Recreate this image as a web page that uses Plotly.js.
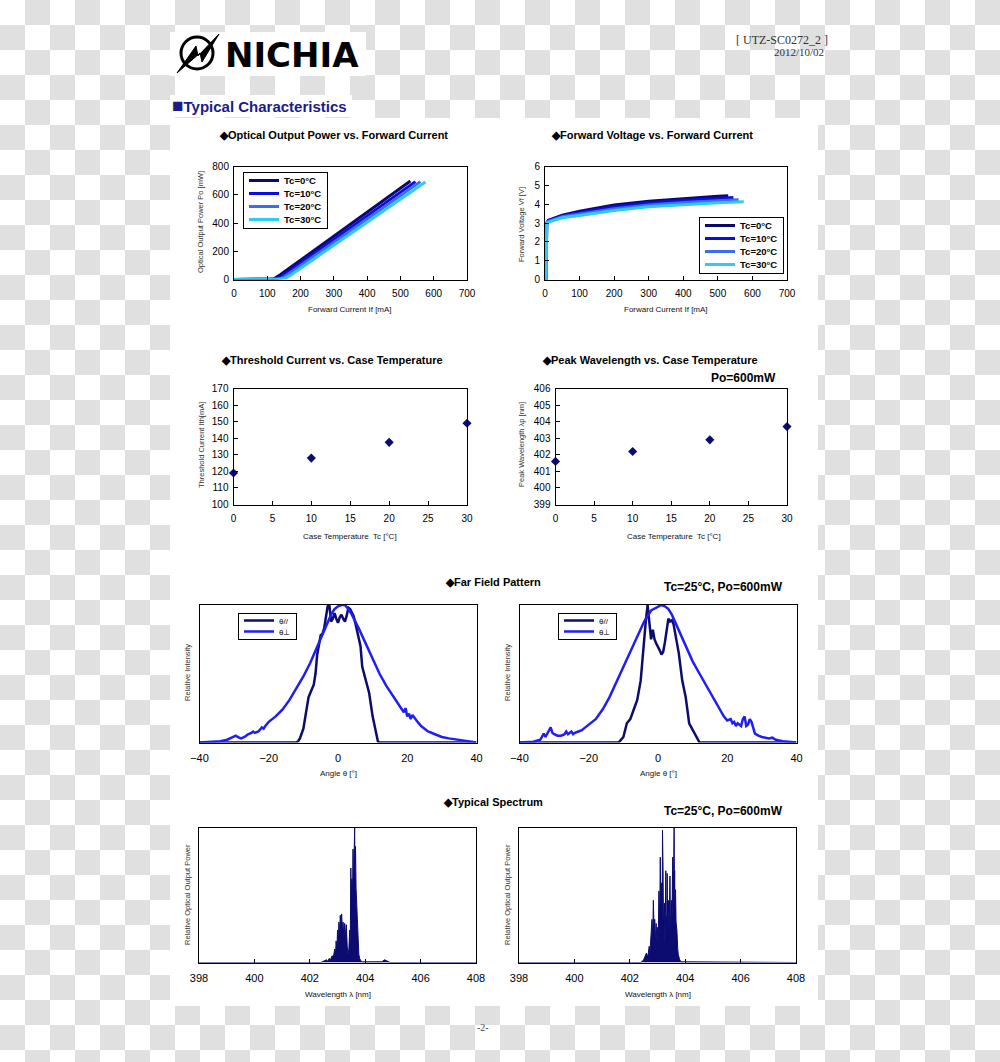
<!DOCTYPE html>
<html><head><meta charset="utf-8">
<script src="https://cdn.plot.ly/plotly-3.0.1.min.js"></script>
<style>
html,body{margin:0;padding:0;}
body{width:1000px;height:1062px;overflow:hidden;background:repeating-conic-gradient(#e0e0e0 0% 25%, #ffffff 0% 50%) 0 0/50px 50px;}
#chart{width:1000px;height:1062px;}
</style></head><body><div id="chart"></div>
<script>
// ---------- DATA ----------
// Optical output power vs forward current
const liCurrentTc0 = [0, 95, 110, 119, 125, 140, 200, 300, 400, 500, 530];
const liPowerTc0   = [0, 0, 3, 6, 12, 35, 137, 307, 477, 647, 697];
const liCurrentTc10 = [0, 105, 120, 128, 135, 150, 200, 300, 400, 500, 545];
const liPowerTc10   = [0, 0, 3, 6, 12, 33, 117, 284, 451, 618, 693];
const liCurrentTc20 = [0, 115, 130, 137.5, 145, 160, 200, 300, 400, 500, 560];
const liPowerTc20   = [0, 0, 3, 6, 12, 33, 99, 264, 429, 594, 693];
const liCurrentTc30 = [0, 125, 140, 149, 156, 170, 200, 300, 400, 500, 575];
const liPowerTc30   = [0, 0, 3, 6, 12, 31, 80, 243, 406, 569, 691];

// Forward voltage vs forward current
const viCurrentTc0 = [3, 4, 5, 10, 50, 100, 200, 300, 400, 500, 530];
const viVoltTc0    = [0, 1.0, 3.0, 3.15, 3.42, 3.62, 3.95, 4.15, 4.30, 4.42, 4.45];
const viCurrentTc10 = [3, 4, 5, 10, 50, 100, 200, 300, 400, 500, 545];
const viVoltTc10    = [0, 1.0, 3.0, 3.12, 3.38, 3.56, 3.86, 4.06, 4.20, 4.30, 4.35];
const viCurrentTc20 = [3, 4, 5, 10, 50, 100, 200, 300, 400, 500, 560];
const viVoltTc20    = [0, 1.0, 3.0, 3.09, 3.33, 3.48, 3.76, 3.96, 4.09, 4.18, 4.23];
const viCurrentTc30 = [3, 4, 5, 10, 50, 100, 200, 300, 400, 500, 575];
const viVoltTc30    = [0, 1.0, 3.0, 3.05, 3.28, 3.40, 3.66, 3.86, 3.98, 4.08, 4.13];

const seriesNames = ['Tc=0°C', 'Tc=10°C', 'Tc=20°C', 'Tc=30°C'];

// Threshold current and peak wavelength vs case temperature
const caseTemps = [0, 10, 20, 30];
const thresholdCurrent = [119, 128, 137.5, 149];
const peakWavelength = [401.6, 402.2, 402.9, 403.7];

// Far field pattern (left sample)
const ffLeftParAngle = [-40,-12,-11.5,-11,-10,-9,-8.5,-8,-7,-6.5,-6,-5,-4.5,-4,-3.5,-3,-2.5,-2,-1.5,-1,-0.5,0,0.5,1,1.5,2,2.5,3,3.5,4,4.5,5,6,6.5,7,7.5,8,9,10,10.5,11,11.5,12,40];
const ffLeftParInt   = [0,0,0.01,0.03,0.10,0.25,0.33,0.36,0.42,0.50,0.64,0.78,0.79,0.83,0.90,0.99,1.0,0.88,0.90,0.94,0.90,0.87,0.91,0.93,0.90,0.88,0.92,0.98,0.97,0.95,0.92,0.87,0.77,0.70,0.55,0.50,0.45,0.36,0.19,0.12,0.05,0.01,0,0];
const ffLeftPerpAngle = [-40,-36,-34,-32,-31,-30,-29.5,-29,-28,-27,-26,-25,-24.5,-24,-23,-22,-21.5,-21,-20,-18,-16,-14,-12,-10,-8,-6,-4,-2,-1,0,1,2,3,4,6,8,10,12,14,16,18,19,19.5,20,20.5,21,21.5,22,22.5,23,24,25,26,28,30,32,35,38,40];
const ffLeftPerpInt   = [0,0.005,0.01,0.02,0.03,0.04,0.05,0.04,0.03,0.04,0.06,0.07,0.08,0.07,0.08,0.11,0.10,0.12,0.15,0.19,0.24,0.31,0.39,0.48,0.58,0.70,0.82,0.93,0.97,0.99,1.0,1.0,0.97,0.93,0.83,0.72,0.60,0.50,0.41,0.33,0.26,0.22,0.25,0.19,0.21,0.17,0.20,0.18,0.16,0.15,0.12,0.10,0.08,0.06,0.04,0.03,0.02,0.01,0];

// Far field pattern (right sample)
const ffRightParAngle = [-40,-11.5,-11,-10,-9,-8,-7,-6,-5,-4.5,-4,-3.5,-3,-2.5,-2,-1.5,-1,-0.5,0,0.5,1,1.5,2,2.5,3,3.5,4,4.5,5,5.5,6,7,8,9,10,11,12,40];
const ffRightParInt   = [0,0,0.01,0.04,0.14,0.17,0.24,0.31,0.45,0.60,0.77,0.89,1.0,0.89,0.75,0.82,0.75,0.72,0.70,0.67,0.64,0.66,0.73,0.80,0.90,0.88,0.89,0.86,0.78,0.72,0.65,0.45,0.33,0.14,0.09,0.04,0,0];
const ffRightPerpAngle = [-40,-36,-34,-33,-32.5,-32,-31,-30.5,-30,-29,-28,-27,-26.5,-26,-25,-24.5,-24,-23,-22,-21,-20,-18,-16,-14,-12,-10,-8,-6,-4,-2,0,1,2,3,4,6,8,10,12,14,16,18,19,20,21,21.5,22,22.5,23,24,24.5,25,25.5,26,26.5,27,27.5,28,29,30,32,33,34,36,40];
const ffRightPerpInt   = [0,0.005,0.02,0.065,0.04,0.06,0.11,0.07,0.06,0.05,0.05,0.06,0.08,0.06,0.08,0.06,0.07,0.08,0.09,0.11,0.13,0.17,0.24,0.33,0.44,0.55,0.66,0.77,0.88,0.96,0.99,1.0,0.99,0.97,0.93,0.82,0.70,0.59,0.50,0.41,0.32,0.23,0.19,0.16,0.17,0.14,0.15,0.12,0.14,0.12,0.17,0.19,0.12,0.13,0.17,0.15,0.10,0.065,0.05,0.04,0.03,0.035,0.02,0.01,0];
const ffNames = ['θ//', 'θ⊥'];

// Typical spectrum (left sample)
const specLeftWl  = [398,402.4,402.5,402.6,402.65,402.7,402.75,402.8,402.85,402.9,402.93,402.95,402.98,403.0,403.03,403.05,403.08,403.1,403.12,403.15,403.18,403.2,403.23,403.26,403.29,403.32,403.35,403.38,403.41,403.44,403.46,403.48,403.5,403.52,403.54,403.56,403.58,403.6,403.61,403.62,403.63,403.65,403.67,403.7,403.72,403.74,403.77,403.8,403.85,403.9,404.6,404.7,404.8,404.9,408];
const specLeftPow = [0,0,0.01,0.02,0.01,0.03,0.02,0.05,0.04,0.10,0.06,0.16,0.09,0.24,0.14,0.30,0.20,0.35,0.25,0.36,0.22,0.30,0.18,0.29,0.20,0.28,0.12,0.06,0.10,0.24,0.10,0.70,0.45,0.62,0.40,0.84,0.60,0.90,0.70,1.0,0.72,0.86,0.55,0.42,0.25,0.15,0.06,0.03,0.01,0.005,0.005,0.02,0.01,0,0];

// Typical spectrum (right sample)
const specRightWl  = [398,402.4,402.5,402.55,402.6,402.65,402.7,402.73,402.76,402.8,402.83,402.85,402.88,402.9,402.93,402.95,402.98,403.0,403.03,403.05,403.08,403.1,403.12,403.15,403.17,403.18,403.19,403.2,403.22,403.25,403.27,403.3,403.31,403.32,403.33,403.35,403.37,403.4,403.42,403.45,403.47,403.5,403.52,403.55,403.57,403.6,403.61,403.62,403.63,403.65,403.67,403.7,403.73,403.75,403.8,403.85,404.0,405.0,405.1,408];
const specRightPow = [0,0,0.02,0.05,0.07,0.04,0.12,0.08,0.20,0.32,0.18,0.46,0.22,0.32,0.15,0.29,0.14,0.26,0.20,0.53,0.30,0.78,0.40,0.59,0.35,0.98,0.45,0.70,0.20,0.44,0.12,0.68,0.25,0.34,0.15,0.66,0.20,0.46,0.18,0.64,0.22,0.46,0.25,0.78,0.40,1.0,0.55,0.68,0.35,0.54,0.30,0.24,0.10,0.06,0.02,0.005,0.005,0.005,0,0];

// ---------- STYLE / LAYOUT ----------
const W = 1000, H = 1062;
const px = v => v / W;
const py = v => 1 - v / H;
const SANS = 'Liberation Sans, Arial, sans-serif';
const SERIF = 'Liberation Serif, Times New Roman, serif';
const tcColors = ['#0a0a6e', '#0c0ce6', '#3a6cf2', '#2ecaf8'];
const parColor = '#0c0c6c', perpColor = '#1e1ef5', navy = '#0b0b70';

const data = [];
const liX = [liCurrentTc0, liCurrentTc10, liCurrentTc20, liCurrentTc30];
const liY = [liPowerTc0, liPowerTc10, liPowerTc20, liPowerTc30];
const viX = [viCurrentTc0, viCurrentTc10, viCurrentTc20, viCurrentTc30];
const viY = [viVoltTc0, viVoltTc10, viVoltTc20, viVoltTc30];
for (let i = 0; i < 4; i++) {
  data.push({type:'scatter', mode:'lines', x:liX[i], y:liY[i], name:seriesNames[i], xaxis:'x', yaxis:'y', legend:'legend',
    line:{color:tcColors[i], width:3}});
}
for (let i = 0; i < 4; i++) {
  data.push({type:'scatter', mode:'lines', x:viX[i], y:viY[i], name:seriesNames[i], xaxis:'x2', yaxis:'y2', legend:'legend2',
    line:{color:tcColors[i], width:3}});
}
data.push({type:'scatter', mode:'markers', x:caseTemps, y:thresholdCurrent, xaxis:'x3', yaxis:'y3', showlegend:false, cliponaxis:false,
  marker:{symbol:'diamond', size:7, color:navy}});
data.push({type:'scatter', mode:'markers', x:caseTemps, y:peakWavelength, xaxis:'x4', yaxis:'y4', showlegend:false, cliponaxis:false,
  marker:{symbol:'diamond', size:7, color:navy}});
data.push({type:'scatter', mode:'lines', x:ffLeftParAngle, y:ffLeftParInt, name:ffNames[0], xaxis:'x5', yaxis:'y5', legend:'legend3', line:{color:parColor, width:2.5}});
data.push({type:'scatter', mode:'lines', x:ffLeftPerpAngle, y:ffLeftPerpInt, name:ffNames[1], xaxis:'x5', yaxis:'y5', legend:'legend3', line:{color:perpColor, width:2.5}});
data.push({type:'scatter', mode:'lines', x:ffRightParAngle, y:ffRightParInt, name:ffNames[0], xaxis:'x6', yaxis:'y6', legend:'legend4', line:{color:parColor, width:2.5}});
data.push({type:'scatter', mode:'lines', x:ffRightPerpAngle, y:ffRightPerpInt, name:ffNames[1], xaxis:'x6', yaxis:'y6', legend:'legend4', line:{color:perpColor, width:2.5}});
data.push({type:'scatter', mode:'lines', x:specLeftWl, y:specLeftPow, xaxis:'x7', yaxis:'y7', showlegend:false, fill:'tozeroy', fillcolor:navy, line:{color:navy, width:1}});
data.push({type:'scatter', mode:'lines', x:specRightWl, y:specRightPow, xaxis:'x8', yaxis:'y8', showlegend:false, fill:'tozeroy', fillcolor:navy, line:{color:navy, width:1}});

const ax = (o) => Object.assign({showline:true, mirror:true, linecolor:'#000', linewidth:1, showgrid:false, zeroline:false,
  ticks:'inside', ticklen:4, tickcolor:'#000', tickfont:{family:SANS, size:10, color:'#000'}, fixedrange:true}, o);
const bigTick = {family:SANS, size:11, color:'#000'};

const topY = [py(279.5), py(166.5)], midY = [py(504.5), py(388.5)], ffY = [py(742.5), py(605)], spY = [py(962.5), py(827.5)];
const layout = {
  width: W, height: H, autosize:false,
  margin:{l:0, r:0, t:0, b:0, pad:0},
  paper_bgcolor:'rgba(0,0,0,0)', plot_bgcolor:'#ffffff',
  font:{family:SANS, color:'#000'},
  xaxis:  ax({domain:[px(234), px(467)], range:[0,700], dtick:100, anchor:'y', ticklabelstandoff:4}),
  yaxis:  ax({domain:topY, range:[0,800], dtick:200, anchor:'x', ticklabelstandoff:2}),
  xaxis2: ax({domain:[px(545), px(787)], range:[0,700], dtick:100, anchor:'y2', ticklabelstandoff:4}),
  yaxis2: ax({domain:topY, range:[0,6], dtick:1, anchor:'x2', ticklabelstandoff:2}),
  xaxis3: ax({domain:[px(233.5), px(467)], range:[0,30], dtick:5, anchor:'y3', ticklabelstandoff:4}),
  yaxis3: ax({domain:midY, range:[100,170], dtick:10, anchor:'x3', ticklabelstandoff:2}),
  xaxis4: ax({domain:[px(555.5), px(787)], range:[0,30], dtick:5, anchor:'y4', ticklabelstandoff:4}),
  yaxis4: ax({domain:midY, range:[399,406], dtick:1, anchor:'x4', ticklabelstandoff:2}),
  xaxis5: ax({domain:[px(199.5), px(476.5)], range:[-40,40], dtick:20, ticks:'', anchor:'y5', layer:'below traces', tickfont:bigTick, ticklabelstandoff:5}),
  yaxis5: ax({domain:ffY, range:[0,1], ticks:'', showticklabels:false, anchor:'x5', layer:'below traces'}),
  xaxis6: ax({domain:[px(519.5), px(796.5)], range:[-40,40], dtick:20, ticks:'', anchor:'y6', layer:'below traces', tickfont:bigTick, ticklabelstandoff:5}),
  yaxis6: ax({domain:ffY, range:[0,1], ticks:'', showticklabels:false, anchor:'x6', layer:'below traces'}),
  xaxis7: ax({domain:[px(199), px(476)], range:[398,408], dtick:2, anchor:'y7', layer:'below traces', tickfont:bigTick, ticklabelstandoff:5}),
  yaxis7: ax({domain:spY, range:[0,1], ticks:'', showticklabels:false, anchor:'x7', layer:'below traces'}),
  xaxis8: ax({domain:[px(519), px(796)], range:[398,408], dtick:2, anchor:'y8', layer:'below traces', tickfont:bigTick, ticklabelstandoff:5}),
  yaxis8: ax({domain:spY, range:[0,1], ticks:'', showticklabels:false, anchor:'x8', layer:'below traces'}),
  legend:  {x:px(243), y:py(172), xanchor:'left', yanchor:'top', bgcolor:'#fff', bordercolor:'#000', borderwidth:1, itemwidth:30, tracegroupgap:0,
            font:{family:SANS, size:9.5, color:'#000', weight:'bold'}},
  legend2: {x:px(699), y:py(217), xanchor:'left', yanchor:'top', bgcolor:'#fff', bordercolor:'#000', borderwidth:1, itemwidth:30, tracegroupgap:0,
            font:{family:SANS, size:9.5, color:'#000', weight:'bold'}},
  legend3: {x:px(238), y:py(613), xanchor:'left', yanchor:'top', bgcolor:'#fff', bordercolor:'#000', borderwidth:1, itemwidth:30, tracegroupgap:0,
            font:{family:SANS, size:8, color:'#000'}},
  legend4: {x:px(558), y:py(613), xanchor:'left', yanchor:'top', bgcolor:'#fff', bordercolor:'#000', borderwidth:1, itemwidth:30, tracegroupgap:0,
            font:{family:SANS, size:8, color:'#000'}},
  shapes: [], annotations: []
};

// page background boxes
const rectPx = (x0, y0, x1, y1, fill) => ({type:'rect', xref:'paper', yref:'paper', x0:px(x0), x1:px(x1), y0:py(y1), y1:py(y0),
  fillcolor:fill, line:{width:0}, layer:'below'});
layout.shapes.push(rectPx(170, 118, 818, 1006, '#ffffff'));
layout.shapes.push(rectPx(170, 95, 352, 117, '#ffffff'));
layout.shapes.push(rectPx(170, 32, 366, 76, '#ffffff'));
// logo emblem
layout.shapes.push({type:'circle', xref:'paper', yref:'paper', x0:px(181), x1:px(213), y0:py(69), y1:py(37), line:{color:'#000', width:3}, layer:'above'});
const bolt = [[177,73],[196,46],[198,56],[219,34],[202,62],[200,53]];
layout.shapes.push({type:'path', xref:'paper', yref:'paper', layer:'above', fillcolor:'#000', line:{color:'#000', width:1},
  path: 'M' + bolt.map(p => px(p[0]) + ',' + py(p[1])).join('L') + 'Z'});

const ann = (text, x, y, o) => layout.annotations.push(Object.assign({text, xref:'paper', yref:'paper', x:px(x), y:py(y),
  xanchor:'center', yanchor:'middle', showarrow:false, font:{family:SANS, size:8, color:'#000'}}, o || {}));

ann('NICHIA', 223, 55, {xanchor:'left', font:{family:'DejaVu Sans, sans-serif', size:34, color:'#000', weight:'bold'}});
ann('[ UTZ-SC0272_2 ]', 830, 40, {xanchor:'right', font:{family:SERIF, size:12, color:'#333'}});
ann('2012/10/02', 826, 52, {xanchor:'right', font:{family:SERIF, size:11, color:'#333'}});
ann('<span style="font-size:19px">■</span>Typical Characteristics', 170, 105, {xanchor:'left', font:{family:SANS, size:15, color:'#1b1b8a', weight:'bold'}});

const secFont = {family:SANS, size:11, color:'#000', weight:'bold'};
ann('◆Optical Output Power vs. Forward Current', 333, 135, {font:secFont});
ann('◆Forward Voltage vs. Forward Current', 652, 135, {font:secFont});
ann('◆Threshold Current vs. Case Temperature', 332, 360, {font:secFont});
ann('◆Peak Wavelength vs. Case Temperature', 650, 360, {font:secFont});
ann('Po=600mW', 743, 378, {font:Object.assign({}, secFont, {size:12})});
ann('◆Far Field Pattern', 493, 582, {font:secFont});
ann('Tc=25°C, Po=600mW', 723, 587, {font:Object.assign({}, secFont, {size:12})});
ann('◆Typical Spectrum', 493, 802, {font:secFont});
ann('Tc=25°C, Po=600mW', 723, 811, {font:Object.assign({}, secFont, {size:12})});

const xt = {font:{family:SANS, size:8, color:'#111'}};
ann('Forward Current If [mA]', 350, 310, xt);
ann('Forward Current If [mA]', 666, 310, xt);
ann('Case Temperature  Tc [°C]', 350, 536, xt);
ann('Case Temperature  Tc [°C]', 674, 536, xt);
ann('Angle θ [°]', 338, 774, xt);
ann('Angle θ [°]', 658, 774, xt);
ann('Wavelength λ [nm]', 338, 994, xt);
ann('Wavelength λ [nm]', 658, 994, xt);
const yt = {textangle:-90, font:{family:SANS, size:7.5, color:'#333'}};
ann('Optical Output Power Po [mW]', 201, 222, yt);
ann('Forward Voltage Vf [V]', 521, 225, yt);
ann('Threshold Current Ith[mA]', 201, 445, yt);
ann('Peak Wavelength λp [nm]', 521, 445, yt);
ann('Relative Intensity', 187, 673, yt);
ann('Relative Intensity', 507, 673, yt);
ann('Relative Optical Output Power', 187, 895, yt);
ann('Relative Optical Output Power', 507, 895, yt);
ann('-2-', 483, 1027, {font:{family:SERIF, size:10, color:'#444'}});

Plotly.newPlot('chart', data, layout, {staticPlot:true}).then(gd => {
  // tighten legend rows to match the compact legend boxes of the original
  const steps = {legend:13, legend2:13, legend3:11, legend4:11};
  Object.keys(steps).forEach(cls => {
    const lg = gd.querySelector('g.' + cls);
    if (!lg) return;
    const items = Array.from(lg.querySelectorAll('g.traces'));
    if (!items.length) return;
    const step = steps[cls];
    const parse = el => { const m = /translate\(\s*([-\d.e]+)[ ,]+([-\d.e]+)\s*\)/.exec(el.getAttribute('transform') || '');
      return m ? [parseFloat(m[1]), parseFloat(m[2])] : [0, 0]; };
    items.forEach((it, i) => { const p = parse(it); it.setAttribute('transform', 'translate(' + p[0] + ',' + (step / 2 + 2 + i * step) + ')'); });
    const bg = lg.querySelector('rect.bg');
    if (bg) bg.setAttribute('height', items.length * step + 4);
  });
});
</script></body></html>
